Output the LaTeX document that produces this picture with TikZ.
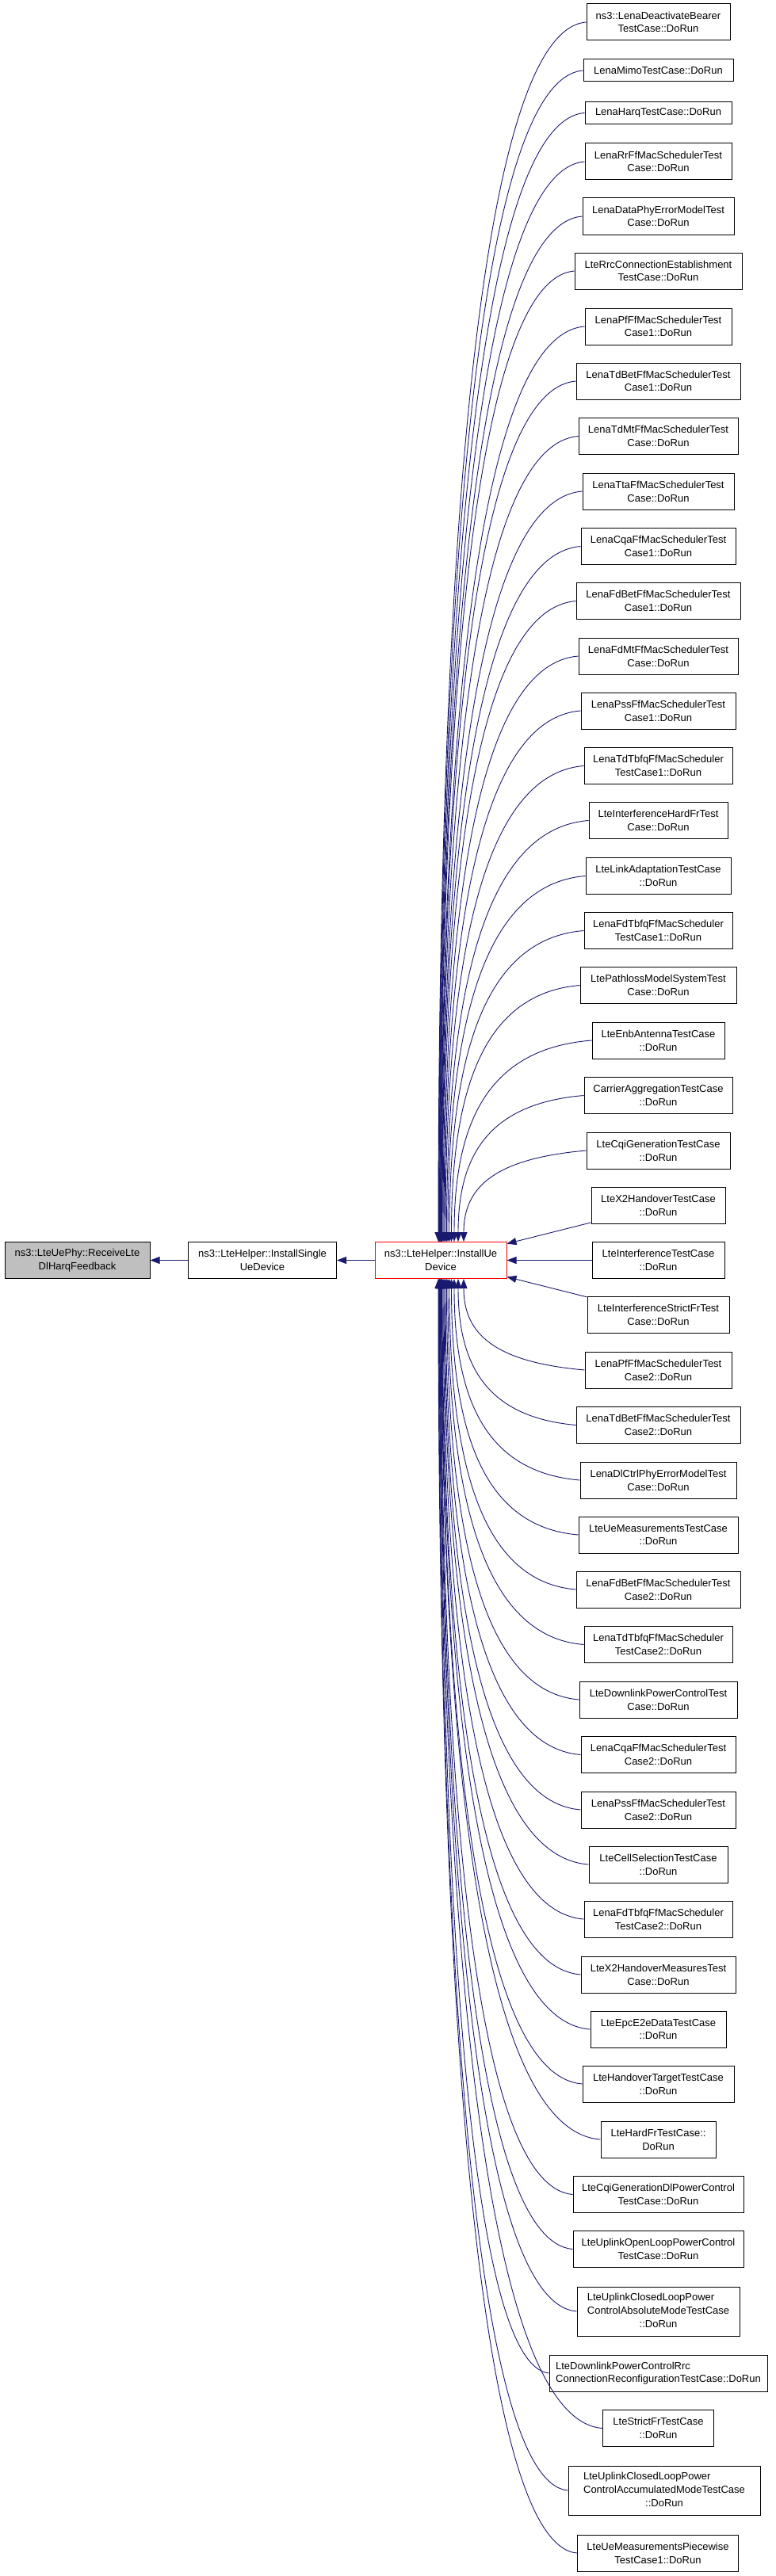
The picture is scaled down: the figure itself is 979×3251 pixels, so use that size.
\documentclass[tikz,border=0pt]{standalone}
\usepackage{fontspec}
\setmainfont{Liberation Sans}
\usetikzlibrary{arrows.meta}
\definecolor{edgeblue}{HTML}{191970}
\definecolor{boxgray}{HTML}{BFBFBF}

\begin{document}
\begin{tikzpicture}[x=1pt,y=1pt,yscale=-1,
  fn/.style={draw=black, line width=1pt, fill=white, inner sep=0pt, align=center,
    font={\fontsize{13pt}{16.7pt}\selectfont}, minimum height=46pt},
  fnone/.style={fn, minimum height=28pt},
  fnthree/.style={fn, minimum height=62pt},
  edge/.style={draw=edgeblue, line width=0.9pt, -{Triangle[length=12pt,width=9pt]}}]
\useasboundingbox (0,0) rectangle (979,3251);

% Text Node
\node[fn, fill=boxgray, minimum width=183pt] (recv) at (97.5,1590.5) {ns3::LteUePhy::ReceiveLte\\DlHarqFeedback};
% Text Node
\node[fn, minimum width=187pt] (single) at (331,1590.5) {ns3::LteHelper::InstallSingle\\UeDevice};
% Text Node
\node[fn, draw=red, minimum width=166pt] (installue) at (556,1590.5) {ns3::LteHelper::InstallUe\\Device};

% Text Node
\node[fn, minimum width=181pt] (ldeact) at (830.5,28) {ns3::LenaDeactivateBearer\\TestCase::DoRun};
\node[fnone, minimum width=189pt] (lmimo) at (830.5,89) {LenaMimoTestCase::DoRun};
\node[fnone, minimum width=185pt] (lharq) at (830.5,142.5) {LenaHarqTestCase::DoRun};
\node[fn, minimum width=185pt] (lrrff) at (830.5,204) {LenaRrFfMacSchedulerTest\\Case::DoRun};
\node[fn, minimum width=191pt] (ldataphy) at (830.5,273) {LenaDataPhyErrorModelTest\\Case::DoRun};
\node[fn, minimum width=211pt] (lrrcconn) at (830.5,342) {LteRrcConnectionEstablishment\\TestCase::DoRun};
\node[fn, minimum width=185pt] (lpfff1) at (830.5,412) {LenaPfFfMacSchedulerTest\\Case1::DoRun};
\node[fn, minimum width=207pt] (ltdbet1) at (830.5,481) {LenaTdBetFfMacSchedulerTest\\Case1::DoRun};
\node[fn, minimum width=201pt] (ltdmt) at (830.5,550.5) {LenaTdMtFfMacSchedulerTest\\Case::DoRun};
\node[fn, minimum width=191pt] (ltta) at (830.5,620) {LenaTtaFfMacSchedulerTest\\Case::DoRun};
\node[fn, minimum width=195pt] (lcqa1) at (830.5,689.5) {LenaCqaFfMacSchedulerTest\\Case1::DoRun};
\node[fn, minimum width=207pt] (lfdbet1) at (830.5,758.5) {LenaFdBetFfMacSchedulerTest\\Case1::DoRun};
\node[fn, minimum width=201pt] (lfdmt) at (830.5,828) {LenaFdMtFfMacSchedulerTest\\Case::DoRun};
\node[fn, minimum width=195pt] (lpss1) at (830.5,897) {LenaPssFfMacSchedulerTest\\Case1::DoRun};
\node[fn, minimum width=187pt] (ltdtbfq1) at (830.5,966.5) {LenaTdTbfqFfMacScheduler\\TestCase1::DoRun};
\node[fn, minimum width=175pt] (lhardfr) at (830.5,1035.5) {LteInterferenceHardFrTest\\Case::DoRun};
\node[fn, minimum width=183pt] (llinkad) at (830.5,1105.5) {LteLinkAdaptationTestCase\\::DoRun};
\node[fn, minimum width=187pt] (lfdtbfq1) at (830.5,1174.5) {LenaFdTbfqFfMacScheduler\\TestCase1::DoRun};
\node[fn, minimum width=197pt] (lpathloss) at (830.5,1243.5) {LtePathlossModelSystemTest\\Case::DoRun};
\node[fn, minimum width=167pt] (lenbant) at (830.5,1313) {LteEnbAntennaTestCase\\::DoRun};
\node[fn, minimum width=187pt] (lcarrier) at (830.5,1382.5) {CarrierAggregationTestCase\\::DoRun};
\node[fn, minimum width=181pt] (lcqigen) at (830.5,1452) {LteCqiGenerationTestCase\\::DoRun};
\node[fn, minimum width=169pt] (lx2ho) at (830.5,1521.5) {LteX2HandoverTestCase\\::DoRun};
\node[fn, minimum width=167pt] (linterf) at (830.5,1590.5) {LteInterferenceTestCase\\::DoRun};
\node[fn, minimum width=179pt] (lstrictfr) at (830.5,1659.5) {LteInterferenceStrictFrTest\\Case::DoRun};
\node[fn, minimum width=185pt] (lpfff2) at (830.5,1729) {LenaPfFfMacSchedulerTest\\Case2::DoRun};
\node[fn, minimum width=207pt] (ltdbet2) at (830.5,1798.5) {LenaTdBetFfMacSchedulerTest\\Case2::DoRun};
\node[fn, minimum width=197pt] (ldlctrl) at (830.5,1868) {LenaDlCtrlPhyErrorModelTest\\Case::DoRun};
\node[fn, minimum width=201pt] (luemeas) at (830.5,1937) {LteUeMeasurementsTestCase\\::DoRun};
\node[fn, minimum width=207pt] (lfdbet2) at (830.5,2006) {LenaFdBetFfMacSchedulerTest\\Case2::DoRun};
\node[fn, minimum width=187pt] (ltdtbfq2) at (830.5,2075.5) {LenaTdTbfqFfMacScheduler\\TestCase2::DoRun};
\node[fn, minimum width=199pt] (ldlpc) at (830.5,2145) {LteDownlinkPowerControlTest\\Case::DoRun};
\node[fn, minimum width=195pt] (lcqa2) at (830.5,2214.5) {LenaCqaFfMacSchedulerTest\\Case2::DoRun};
\node[fn, minimum width=195pt] (lpss2) at (830.5,2284) {LenaPssFfMacSchedulerTest\\Case2::DoRun};
\node[fn, minimum width=175pt] (lcellsel) at (830.5,2353) {LteCellSelectionTestCase\\::DoRun};
\node[fn, minimum width=187pt] (lfdtbfq2) at (830.5,2422) {LenaFdTbfqFfMacScheduler\\TestCase2::DoRun};
\node[fn, minimum width=195pt] (lx2hom) at (830.5,2492) {LteX2HandoverMeasuresTest\\Case::DoRun};
\node[fn, minimum width=171pt] (lepc) at (830.5,2561) {LteEpcE2eDataTestCase\\::DoRun};
\node[fn, minimum width=191pt] (lhotarget) at (830.5,2630) {LteHandoverTargetTestCase\\::DoRun};
\node[fn, minimum width=145pt] (lhardfrtc) at (830.5,2700) {LteHardFrTestCase::\\DoRun};
\node[fn, minimum width=215pt] (lcqidlpc) at (830.5,2769.5) {LteCqiGenerationDlPowerControl\\TestCase::DoRun};
\node[fn, minimum width=215pt] (lulopen) at (830.5,2838.5) {LteUplinkOpenLoopPowerControl\\TestCase::DoRun};
\node[fnthree, minimum width=205pt] (lulabs) at (830.5,2917) {\begin{tabular}{@{}l@{}}LteUplinkClosedLoopPower\\ControlAbsoluteModeTestCase\\\multicolumn{1}{@{}c@{}}{::DoRun}\end{tabular}};
\node[fn, minimum width=275pt] (ldlpcrrc) at (830.5,2995) {\begin{tabular}{@{}l@{}}LteDownlinkPowerControlRrc\\ConnectionReconfigurationTestCase::DoRun\end{tabular}};
\node[fn, minimum width=140pt] (lstrictfrtc) at (830.5,3064.5) {LteStrictFrTestCase\\::DoRun};
\node[fnthree, minimum width=242pt] (lulacc) at (838,3143) {\begin{tabular}{@{}l@{}}LteUplinkClosedLoopPower\\ControlAccumulatedModeTestCase\\\multicolumn{1}{@{}c@{}}{::DoRun}\end{tabular}};
\node[fn, minimum width=203pt] (luepw) at (830,3222) {LteUeMeasurementsPiecewise\\TestCase1::DoRun};

% Connection
\draw[edge] (single) -- (recv);
\draw[edge] (installue) -- (single);

% Connection
\draw[edge] (ldeact.west) .. controls +(-129,10) and +(0,-924) .. ([xshift=-3pt]installue.north);
\draw[edge] (lmimo.west) .. controls +(-126,10) and +(0,-887) .. ([xshift=-2.5pt]installue.north);
\draw[edge] (lharq.west) .. controls +(-127,10) and +(0,-855) .. ([xshift=-2pt]installue.north);
\draw[edge] (lrrff.west) .. controls +(-127,10) and +(0,-818) .. ([xshift=-1.5pt]installue.north);
\draw[edge] (ldataphy.west) .. controls +(-125,10) and +(0,-777) .. ([xshift=-1pt]installue.north);
\draw[edge] (lrrcconn.west) .. controls +(-118,10) and +(0,-736) .. ([xshift=-0.5pt]installue.north);
\draw[edge] (lpfff1.west) .. controls +(-127,10) and +(0,-694) .. (installue.north);
\draw[edge] (ltdbet1.west) .. controls +(-120,10) and +(0,-652) .. ([xshift=0.5pt]installue.north);
\draw[edge] (ltdmt.west) .. controls +(-122,10) and +(0,-611) .. ([xshift=1pt]installue.north);
\draw[edge] (ltta.west) .. controls +(-125,10) and +(0,-569) .. ([xshift=1.5pt]installue.north);
\draw[edge] (lcqa1.west) .. controls +(-124,10) and +(0,-527) .. ([xshift=2pt]installue.north);
\draw[edge] (lfdbet1.west) .. controls +(-120,10) and +(0,-486) .. ([xshift=3pt]installue.north);
\draw[edge] (lfdmt.west) .. controls +(-122,10) and +(0,-444) .. ([xshift=4pt]installue.north);
\draw[edge] (lpss1.west) .. controls +(-124,10) and +(0,-403) .. ([xshift=5pt]installue.north);
\draw[edge] (ltdtbfq1.west) .. controls +(-126,10) and +(0,-361) .. ([xshift=6pt]installue.north);
\draw[edge] (lhardfr.west) .. controls +(-130,10) and +(0,-320) .. ([xshift=7.5pt]installue.north);
\draw[edge] (llinkad.west) .. controls +(-127,10) and +(0,-278) .. ([xshift=9pt]installue.north);
\draw[edge] (lfdtbfq1.west) .. controls +(-125,10) and +(0,-236) .. ([xshift=11pt]installue.north);
\draw[edge] (lpathloss.west) .. controls +(-120,10) and +(0,-195) .. ([xshift=13.5pt]installue.north);
\draw[edge] (lenbant.west) .. controls +(-129,10) and +(0,-153) .. ([xshift=17pt]installue.north);
\draw[edge] (lcarrier.west) .. controls +(-118,10) and +(0,-111) .. ([xshift=22pt]installue.north);
\draw[edge] (lcqigen.west) .. controls +(-114,10) and +(0,-70) .. ([xshift=29pt]installue.north);
\draw[edge] (lx2ho) -- (installue);
\draw[edge] (linterf) -- (installue);
\draw[edge] (lstrictfr) -- (installue);
\draw[edge] (lpfff2.west) .. controls +(-113,-10) and +(0,70) .. ([xshift=29pt]installue.south);
\draw[edge] (ltdbet2.west) .. controls +(-111,-10) and +(0,111) .. ([xshift=22pt]installue.south);
\draw[edge] (ldlctrl.west) .. controls +(-118,-10) and +(0,153) .. ([xshift=17pt]installue.south);
\draw[edge] (luemeas.west) .. controls +(-119,-10) and +(0,195) .. ([xshift=13.5pt]installue.south);
\draw[edge] (lfdbet2.west) .. controls +(-118,-10) and +(0,236) .. ([xshift=11pt]installue.south);
\draw[edge] (ltdtbfq2.west) .. controls +(-126,-10) and +(0,278) .. ([xshift=9pt]installue.south);
\draw[edge] (ldlpc.west) .. controls +(-122,-10) and +(0,320) .. ([xshift=7.5pt]installue.south);
\draw[edge] (lcqa2.west) .. controls +(-124,-10) and +(0,361) .. ([xshift=6pt]installue.south);
\draw[edge] (lpss2.west) .. controls +(-124,-10) and +(0,403) .. ([xshift=5pt]installue.south);
\draw[edge] (lcellsel.west) .. controls +(-131,-10) and +(0,444) .. ([xshift=4pt]installue.south);
\draw[edge] (lfdtbfq2.west) .. controls +(-127,-10) and +(0,486) .. ([xshift=3pt]installue.south);
\draw[edge] (lx2hom.west) .. controls +(-124,-10) and +(0,527) .. ([xshift=2pt]installue.south);
\draw[edge] (lepc.west) .. controls +(-132,-10) and +(0,569) .. ([xshift=1.5pt]installue.south);
\draw[edge] (lhotarget.west) .. controls +(-125,-10) and +(0,611) .. ([xshift=1pt]installue.south);
\draw[edge] (lhardfrtc.west) .. controls +(-141,-10) and +(0,652) .. ([xshift=0.5pt]installue.south);
\draw[edge] (lcqidlpc.west) .. controls +(-117,-10) and +(0,694) .. (installue.south);
\draw[edge] (lulopen.west) .. controls +(-117,-10) and +(0,736) .. ([xshift=-0.5pt]installue.south);
\draw[edge] (lulabs.west) .. controls +(-120,-10) and +(0,782) .. ([xshift=-1pt]installue.south);
\draw[edge] (ldlpcrrc.west) .. controls +(-96,-10) and +(0,829) .. ([xshift=-1.5pt]installue.south);
\draw[edge] (lstrictfrtc.west) .. controls +(-143,-10) and +(0,871) .. ([xshift=-2pt]installue.south);
\draw[edge] (lulacc.west) .. controls +(-113,-10) and +(0,918) .. ([xshift=-2.5pt]installue.south);
\draw[edge] (luepw.west) .. controls +(-120,-10) and +(0,965) .. ([xshift=-3pt]installue.south);

\end{tikzpicture}
\end{document}
